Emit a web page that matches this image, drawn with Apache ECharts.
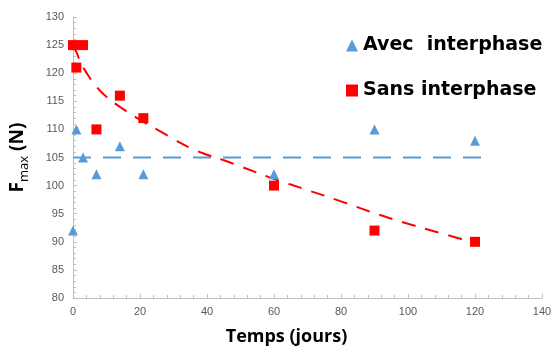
<!DOCTYPE html>
<html><head><meta charset="utf-8">
<script src="https://cdn.jsdelivr.net/npm/echarts@6/dist/echarts.min.js"></script>
<style>html,body{margin:0;padding:0;background:#fff}#c{width:555px;height:352px}</style>
</head><body><div id="c"></div>
<script>
const avecX = [0, 1, 3, 7, 14, 21, 60, 90, 120];
const avecY = [92, 110, 105, 102, 107, 102, 102, 110, 108];
const sansX = [0, 3, 1, 7, 14, 21, 60, 90, 120];
const sansY = [125, 125, 121, 110, 116, 112, 100, 92, 90];
const avecTrendX = [0, 123];
const avecTrendY = [105, 105];
const sansTrendX = [0, 1, 2, 4, 7, 10, 14, 20, 25, 30, 35, 40, 45, 50, 60, 70, 80, 90, 100, 110, 120];
const sansTrendY = [124.8, 123.8, 122.3, 120.1, 117.6, 115.8, 114, 111.7, 110, 108.3, 106.7, 105.5, 104.5, 103.4, 101.2, 99.2, 97.2, 95.1, 93.2, 91.5, 89.8];
const xTicks = {min: 0, max: 140, interval: 20};
const yTicks = {min: 80, max: 130, interval: 5};

const zip = (a, b) => a.map((v, i) => [v, b[i]]);
const chart = echarts.init(document.getElementById('c'));
const axisCommon = {
  axisLine: {show: true, lineStyle: {color: '#bfbfbf', width: 1}},
  axisTick: {show: true, inside: true, length: 4, lineStyle: {color: '#bfbfbf'}},
  minorTick: {show: true, splitNumber: 5, length: 3, lineStyle: {color: '#bfbfbf'}},
  splitLine: {show: false},
  axisLabel: {color: '#595959', fontSize: 11, fontFamily: 'Liberation Sans'}
};
chart.setOption({
  animation: false,
  backgroundColor: '#fff',
  grid: {left: 69, right: 13, top: 17, bottom: 54},
  legend: {
    orient: 'vertical', left: 341, top: 31, itemGap: 26, itemWidth: 12, itemHeight: 12,
    textStyle: {fontSize: 19, fontWeight: 'bold', color: '#000', fontFamily: 'DejaVu Sans'},
    data: [{name: 'Avec  interphase', icon: 'triangle'}, {name: 'Sans interphase', icon: 'rect'}]
  },
  xAxis: Object.assign({}, axisCommon, {
    type: 'value', min: xTicks.min, max: xTicks.max, interval: xTicks.interval,
    axisLabel: Object.assign({}, axisCommon.axisLabel, {margin: 8}),
    name: 'Temps (jours)', nameLocation: 'middle', nameGap: 30,
    nameTextStyle: {fontSize: 18, fontWeight: 'bold', color: '#000', fontFamily: 'Open Sans', padding: [0, 42, 0, 0]}
  }),
  yAxis: Object.assign({}, axisCommon, {
    type: 'value', min: yTicks.min, max: yTicks.max, interval: yTicks.interval,
    axisLabel: Object.assign({}, axisCommon.axisLabel, {margin: 9}),
    name: '{a|F}{b|max}{a| (N)}', nameLocation: 'middle', nameGap: 42, nameRotate: 90,
    nameTextStyle: {
      color: '#000', fontFamily: 'Open Sans',
      rich: {
        a: {fontSize: 19, fontWeight: 'bold', fontFamily: 'Open Sans', color: '#000', lineHeight: 26, verticalAlign: 'middle'},
        b: {fontSize: 13, fontFamily: 'Open Sans', color: '#000', lineHeight: 26, verticalAlign: 'bottom', padding: [10, 0, 0, 0]}
      }
    }
  }),
  series: [
    {name: 'Avec  interphase', type: 'scatter', symbol: 'triangle', symbolSize: 10,
     itemStyle: {color: '#5b9bd5', opacity: 1}, data: zip(avecX, avecY), z: 3},
    {name: 'Sans interphase', type: 'scatter', symbol: 'rect', symbolSize: 10,
     itemStyle: {color: '#ff0000', opacity: 1}, data: zip(sansX, sansY), z: 3},
    {name: 'trendA', type: 'line', showSymbol: false, symbol: 'none', data: zip(avecTrendX, avecTrendY),
     lineStyle: {color: '#5b9bd5', width: 2, type: [18, 12]}, silent: true, z: 2},
    {name: 'trendS', type: 'line', showSymbol: false, symbol: 'none', smooth: true, data: zip(sansTrendX, sansTrendY),
     lineStyle: {color: '#ff0000', width: 2, type: [14, 10]}, silent: true, z: 2}
  ]
});
</script></body></html>
